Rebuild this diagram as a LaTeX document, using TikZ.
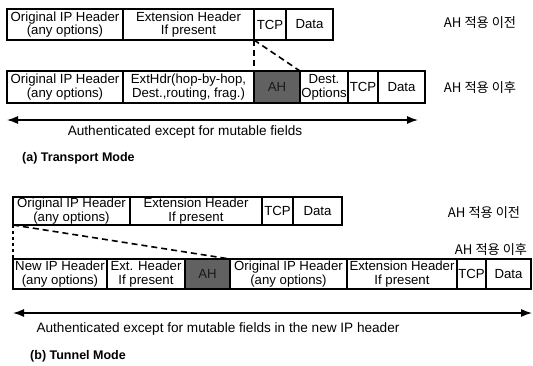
\documentclass[tikz,border=0pt]{standalone}
\usepackage{fontspec}
\setmainfont{Liberation Sans}
\newfontfamily\krfont{Noto Sans CJK KR}
\usetikzlibrary{arrows.meta}
\begin{document}
\begin{tikzpicture}[x=1pt,y=-1pt,
  cell/.style={draw, line width=1.1pt, inner sep=0pt, outer sep=0pt, anchor=north west,
    align=center, font=\fontsize{13.2}{13.8}\selectfont},
  ahcell/.style={cell, fill=black!62, text=black!90},
  korlbl/.style={font=\krfont\fontsize{13.2}{14}\selectfont, inner sep=0pt},
  captxt/.style={font=\bfseries\fontsize{12.5}{14}\selectfont, inner sep=0pt, anchor=west},
  notetxt/.style={font=\fontsize{13.6}{15}\selectfont, inner sep=0pt},
  dashln/.style={line width=1.6pt, dash pattern=on 6pt off 4pt},
  botharr/.style={line width=1.3pt, {Latex[length=11pt,width=8pt]}-{Latex[length=11pt,width=8pt]}}]
\useasboundingbox (0,0) rectangle (533,365);

% ---------- (a) Transport mode: before ----------
\node[cell, minimum width=116, minimum height=31] (a1) at (7,9) {Original IP Header\\(any options)};
\node[cell, minimum width=131, minimum height=31] (b1) at (123,9) {Extension Header\\If present};
\node[cell, minimum width=32, minimum height=31] (c1) at (254,9) {TCP};
\node[cell, minimum width=47, minimum height=31] (d1) at (286,9) {Data};
\node[korlbl] (l1) at (480,23) {AH 적용 이전};

% ---------- (a) Transport mode: after ----------
\node[cell, minimum width=116, minimum height=32] (a2) at (7,71) {Original IP Header\\(any options)};
\node[cell, minimum width=131, minimum height=32] (b2) at (123,71) {ExtHdr(hop-by-hop,\\Dest.,routing, frag.)};
\node[ahcell, minimum width=46, minimum height=32] (ah2) at (254,71) {AH};
\node[cell, minimum width=48, minimum height=32] (e2) at (300,71) {Dest.\\Options};
\node[cell, minimum width=30, minimum height=32] (c2) at (348,71) {TCP};
\node[cell, minimum width=47, minimum height=32] (d2) at (378,71) {Data};
\node[korlbl] (l2) at (480,88) {AH 적용 이후};

\draw[dashln] (b1.south east) -- (ah2.north west);
\draw[dashln] (b1.south east) -- (ah2.north east);

\coordinate (ta) at (7,120);
\coordinate (tb) at (418,120);
\draw[botharr] (ta) -- (tb);
\node[notetxt] (t1) at (185,132) {Authenticated except for mutable fields};
\node[captxt] (capa) at (22,158) {(a) Transport Mode};

% ---------- (b) Tunnel mode: before ----------
\node[cell, minimum width=117, minimum height=28] (a3) at (13,197) {Original IP Header\\(any options)};
\node[cell, minimum width=132, minimum height=28] (b3) at (130,197) {Extension Header\\If present};
\node[cell, minimum width=31, minimum height=28] (c3) at (262,197) {TCP};
\node[cell, minimum width=49, minimum height=28] (d3) at (293,197) {Data};
\node[korlbl] (l3) at (484,213) {AH 적용 이전};
\node[korlbl] (l4) at (491,250) {AH 적용 이후};

% ---------- (b) Tunnel mode: after ----------
\node[cell, minimum width=94, minimum height=30] (a4) at (13,259) {New IP Header\\(any options)};
\node[cell, minimum width=78, minimum height=30] (b4) at (107,259) {Ext. Header\\If present};
\node[ahcell, minimum width=45, minimum height=30] (ah4) at (185,259) {AH};
\node[cell, minimum width=117, minimum height=30] (o4) at (230,259) {Original IP Header\\(any options)};
\node[cell, minimum width=110, minimum height=30] (x4) at (347,259) {Extension Header\\If present};
\node[cell, minimum width=29, minimum height=30] (c4) at (457,259) {TCP};
\node[cell, minimum width=45, minimum height=30] (d4) at (486,259) {Data};

\draw[line width=1.4pt, dash pattern=on 3pt off 3pt] (a3.south west) -- (a4.north west);
\draw[dashln] (a3.south west) -- (o4.north west);

\coordinate (tc) at (13,313);
\coordinate (td) at (532,313);
\draw[botharr] (tc) -- (td);
\node[notetxt] (t2) at (218,329) {Authenticated except for mutable fields in the new IP header};
\node[captxt] (capb) at (30,356) {(b) Tunnel Mode};
\end{tikzpicture}
\end{document}
